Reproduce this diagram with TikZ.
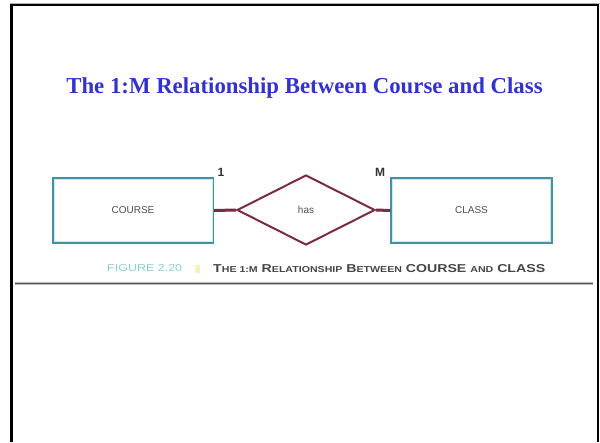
\documentclass[tikz,border=0pt]{standalone}
\usepackage{fontspec}
\setmainfont{Liberation Serif}
\newfontfamily\labelfont{Liberation Sans}
\usetikzlibrary{shapes.geometric}

\definecolor{titleblue}{RGB}{51,51,204}
\definecolor{entityteal}{RGB}{70,145,158}
\definecolor{entityinner}{RGB}{200,235,240}
\definecolor{relmaroon}{RGB}{120,45,66}
\definecolor{labelgray}{RGB}{80,80,80}
\definecolor{figteal}{RGB}{140,205,212}
\definecolor{capgray}{RGB}{70,70,70}
\definecolor{markyellow}{RGB}{245,242,190}

% small-caps look: large initial, smaller rest
\newcommand\capbig[1]{{\fontsize{10}{10}\selectfont #1}}
\newcommand\caplow[1]{{\fontsize{7.5}{7.5}\selectfont #1}}

\tikzset{
  entity/.style={draw=entityteal, line width=2.2pt, fill=white,
    minimum width=160pt, minimum height=64pt, inner sep=0pt,
    font=\labelfont\fontsize{10}{10}\selectfont, text=labelgray},
  relation/.style={diamond, draw=relmaroon, line width=2pt, fill=white,
    minimum width=138pt, minimum height=70pt, inner sep=0pt,
    font=\labelfont\fontsize{10}{10}\selectfont, text=labelgray},
  link/.style={draw=relmaroon, line width=3pt},
  card/.style={font=\labelfont\bfseries\fontsize{12}{12}\selectfont, text=black!80, inner sep=0pt},
  heading/.style={font=\bfseries\fontsize{22.8}{23}\selectfont, text=titleblue, inner sep=0pt},
  figlabel/.style={font=\labelfont, text=figteal, inner sep=0pt, anchor=west},
  captext/.style={font=\labelfont\bfseries, text=capgray, inner sep=0pt, anchor=west}
}

\begin{document}
\begin{tikzpicture}[x=1pt,y=-1pt]
\useasboundingbox (0,0) rectangle (600,442);
\fill[white] (0,0) rectangle (600,442);

% slide frame
\draw[gray!60, line width=1pt] (10,3.3) -- (600,3.3);
\draw[black, line width=2.4pt] (11.5,442) -- (11.5,5) -- (598,5) -- (598,442);

% title
\node[heading] (title) at (304.5,88) {The 1:M Relationship Between Course and Class};

% entities and relationship
\node[entity] (course) at (133,210.5) {COURSE};
\node[entity] (class) at (471.5,210.5) {CLASS};
\draw[entityinner, line width=0.8pt] ([shift={(2,-2)}]course.south west) rectangle ([shift={(-2,2)}]course.north east);
\draw[entityinner, line width=0.8pt] ([shift={(2,-2)}]class.south west) rectangle ([shift={(-2,2)}]class.north east);
\node[relation] (has) at (306,210) {has};

\draw[link] (course.east) -- (has.west);
\draw[link] (has.east) -- (class.west);

% cardinalities
\node[card] (one) at (221,172) {1};
\node[card] (many) at (380,172) {M};

% figure caption
\node[figlabel] (fig) at (107,268.5) {\resizebox{75pt}{7pt}{FIGURE 2.20}};
\node[fill=markyellow, minimum width=5pt, minimum height=8pt, inner sep=0pt] (mark) at (197,268.5) {};
\node[captext] (cap) at (213,268.5) {\resizebox{332pt}{8pt}{\capbig{T}\caplow{HE 1:M} \capbig{R}\caplow{ELATIONSHIP} \capbig{B}\caplow{ETWEEN} \capbig{COURSE} \caplow{AND} \capbig{CLASS}}};

% rule under the figure
\draw[gray!55, line width=3.2pt] (15,283.5) -- (593,283.5);
\draw[black!65, line width=1.2pt] (15,283.5) -- (593,283.5);
\end{tikzpicture}
\end{document}
